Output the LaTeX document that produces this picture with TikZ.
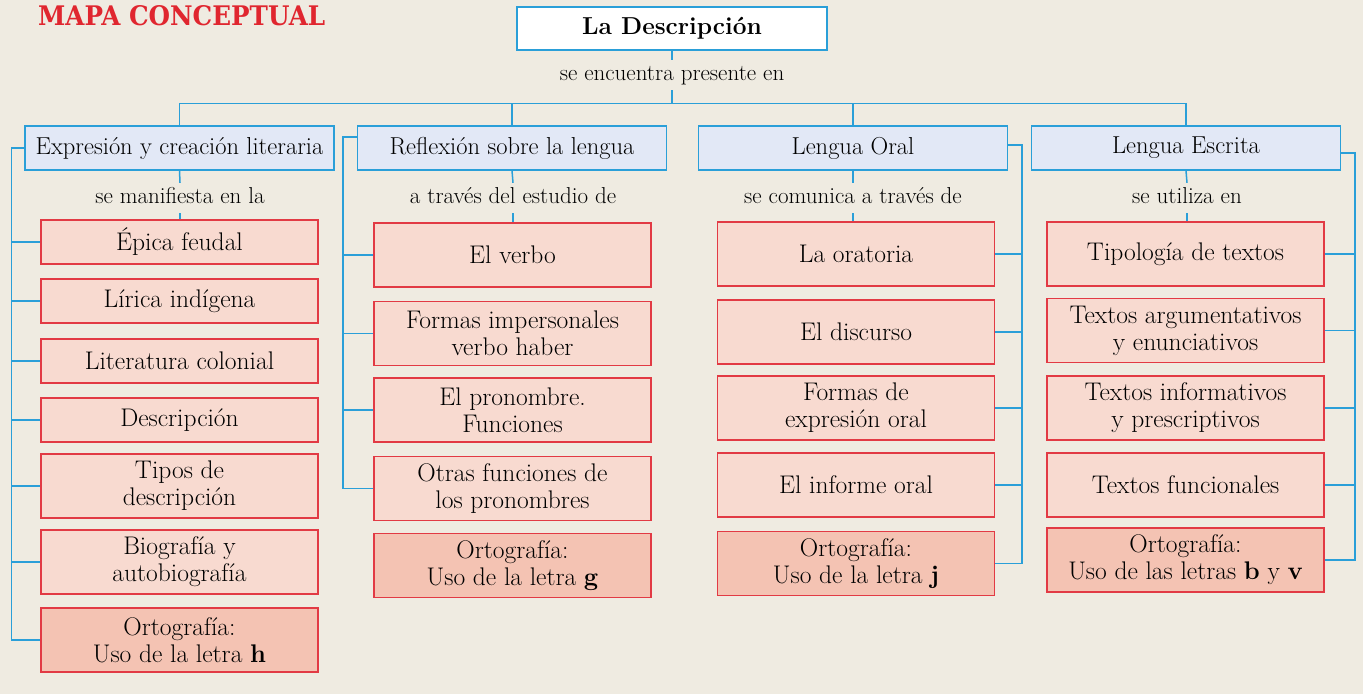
\documentclass[tikz,border=0pt]{standalone}
\usepackage{fontspec}
\usepackage{graphicx}
\newfontfamily\titlefont{DejaVu Serif}
\definecolor{bgc}{HTML}{EFEBE1}
\definecolor{lnc}{HTML}{2A9FD8}
\definecolor{catfill}{HTML}{E2E8F6}
\definecolor{itborder}{HTML}{E23A44}
\definecolor{itfill}{HTML}{F8DAD0}
\definecolor{ortfill}{HTML}{F4C3B3}
\definecolor{titred}{HTML}{E0262F}
\newcommand\ftop{\fontsize{24.5}{28}\selectfont\bfseries}
\newcommand\fcat{\fontsize{24.5}{28}\selectfont}
\newcommand\fitem{\fontsize{25.5}{27}\selectfont}
\newcommand\flbl{\fontsize{23}{26}\selectfont}
\tikzset{
  conn/.style={draw=lnc, line width=1.5pt},
  topbox/.style={draw=lnc, fill=white, line width=1.3pt, minimum width=310pt, minimum height=43pt, inner sep=0pt, font=\ftop},
  catbox/.style={draw=lnc, fill=catfill, line width=1.3pt, minimum width=309pt, minimum height=44pt, inner sep=0pt, font=\fcat},
  itembox/.style={draw=itborder, fill=itfill, line width=1.3pt, minimum width=277pt, inner sep=0pt, align=center, font=\fitem},
  ortbox/.style={itembox, fill=ortfill},
  one/.style={minimum height=44pt},
  two/.style={minimum height=64pt},
  lbl/.style={inner xsep=2pt, inner ysep=5pt, text height=15pt, text depth=5pt, font=\flbl},
}
\begin{document}
\begin{tikzpicture}[x=1pt,y=-1pt]
\fill[bgc] (0,0) rectangle (1363,694);
\useasboundingbox (0,0) rectangle (1363,694);

\node[anchor=north west, inner sep=0pt, text=titred] (title) at (38,5)
  {\resizebox{287pt}{20pt}{\titlefont\bfseries MAPA CONCEPTUAL}};

\node[topbox] (top) at (672,28.5) {La Descripción};
\node[lbl] (l0) at (672,75) {se encuentra presente en};
\coordinate (bus) at (672,104);

\node[catbox] (c1) at (179.5,148) {Expresión y creación literaria};
\node[catbox] (c2) at (512,148) {Reflexión sobre la lengua};
\node[catbox] (c3) at (853,148) {Lengua Oral};
\node[catbox] (c4) at (1186,148) {Lengua Escrita};

\node[lbl] (l1) at (180,198) {se manifiesta en la};
\node[lbl] (l2) at (513,198) {a través del estudio de};
\node[lbl] (l3) at (853,198) {se comunica a través de};
\node[lbl] (l4) at (1187,198) {se utiliza en};

% column 1
\node[itembox,one] (i11) at (179.5,242) {Épica feudal};
\node[itembox,one] (i12) at (179.5,301) {Lírica indígena};
\node[itembox,one] (i13) at (179.5,361) {Literatura colonial};
\node[itembox,one] (i14) at (179.5,420) {Descripción};
\node[itembox,two] (i15) at (179.5,486) {Tipos de\\descripción};
\node[itembox,two] (i16) at (179.5,562) {Biografía y\\autobiografía};
\node[ortbox,two] (i17) at (179.5,640) {Ortografía:\\Uso de la letra \textbf{h}};

% column 2
\node[itembox,two] (i21) at (512.5,255) {El verbo};
\node[itembox,two] (i22) at (512.5,333.5) {Formas impersonales\\verbo haber};
\node[itembox,two] (i23) at (512.5,410) {El pronombre.\\Funciones};
\node[itembox,two] (i24) at (512.5,488.5) {Otras funciones de\\los pronombres};
\node[ortbox,two] (i25) at (512.5,565.5) {Ortografía:\\Uso de la letra \textbf{g}};

% column 3
\node[itembox,two] (i31) at (856,254) {La oratoria};
\node[itembox,two] (i32) at (856,332) {El discurso};
\node[itembox,two] (i33) at (856,408) {Formas de\\expresión oral};
\node[itembox,two] (i34) at (856,485) {El informe oral};
\node[ortbox,two] (i35) at (856,563.5) {Ortografía:\\Uso de la letra \textbf{j}};

% column 4
\node[itembox,two] (i41) at (1185.5,254) {Tipología de textos};
\node[itembox,two] (i42) at (1185.5,330.5) {Textos argumentativos\\y enunciativos};
\node[itembox,two] (i43) at (1185.5,408) {Textos informativos\\y prescriptivos};
\node[itembox,two] (i44) at (1185.5,485) {Textos funcionales};
\node[ortbox,two] (i45) at (1185.5,560) {Ortografía:\\Uso de las letras \textbf{b} y \textbf{v}};

% top connectors
\draw[conn] (top.south) -- (l0.north);
\draw[conn] (l0.south) -- (bus);
\draw[conn] (c1.north) -- ++(0,-22) -| (c4.north);
\draw[conn] (c2.north) -- (c2.north |- bus);
\draw[conn] (c3.north) -- (c3.north |- bus);

% category to label to first item
\draw[conn] (c1.south) -- (l1.north); \draw[conn] (l1.south) -- (l1.south |- i11.north);
\draw[conn] (c2.south) -- (l2.north); \draw[conn] (l2.south) -- (l2.south |- i21.north);
\draw[conn] (c3.south) -- (l3.north); \draw[conn] (l3.south) -- (l3.south |- i31.north);
\draw[conn] (c4.south) -- (l4.north); \draw[conn] (l4.south) -- (l4.south |- i41.north);

% column 1 spine (left)
\draw[conn] (c1.west) -- ++(-13,0) |- (i17.west);
\foreach \n in {i11,i12,i13,i14,i15,i16} \draw[conn] (\n.west) -- ++(-29,0);

% column 2 spine (left)
\draw[conn] ([yshift=11pt]c2.west) -- ++(-14,0) |- (i24.west);
\foreach \n in {i21,i22,i23} \draw[conn] (\n.west) -- ++(-30,0);

% column 3 spine (right)
\draw[conn] ([yshift=3pt]c3.east) -- ++(14,0) |- (i35.east);
\foreach \n in {i31,i32,i33,i34} \draw[conn] (\n.east) -- ++(27,0);

% column 4 spine (right)
\draw[conn] ([yshift=-5pt]c4.east) -- ++(14,0) |- (i45.east);
\foreach \n in {i41,i42,i43,i44} \draw[conn] (\n.east) -- ++(31,0);
\end{tikzpicture}
\end{document}
